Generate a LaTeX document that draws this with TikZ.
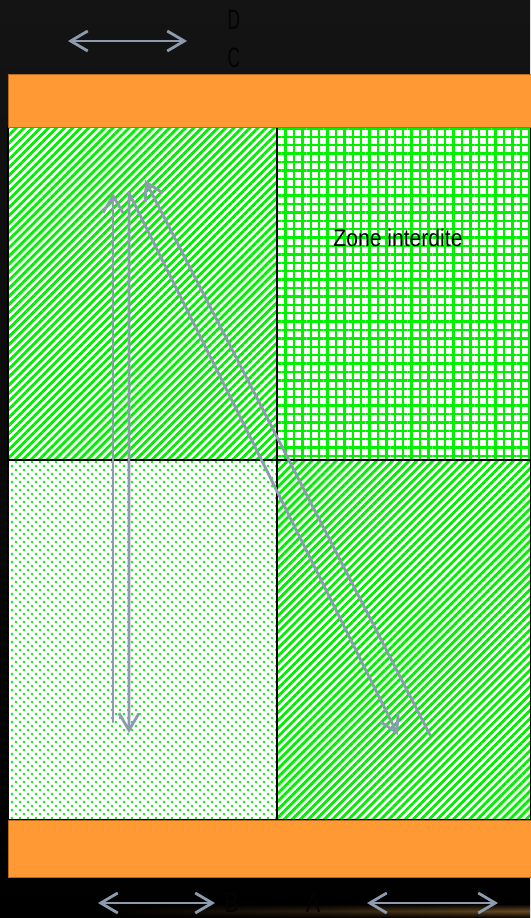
\documentclass[tikz,border=0pt]{standalone}
\usepackage{fontspec}
\setmainfont{Liberation Sans}
\usetikzlibrary{patterns.meta,arrows.meta,fadings}
\definecolor{orangebar}{RGB}{255,153,51}
\definecolor{orangeedge}{RGB}{185,105,30}
\definecolor{zgreen}{RGB}{0,240,0}
\definecolor{arrowgray}{RGB}{140,156,174}
\definecolor{bgtop}{RGB}{20,20,20}
\definecolor{glowcol}{RGB}{140,100,45}
\definecolor{lettercol}{RGB}{4,4,4}
\tikzfading[name=bandfade, top color=transparent!100, bottom color=transparent!100, middle color=transparent!0]
\tikzset{
  orangebarstyle/.style={fill=orangebar, draw=orangeedge, line width=0.8pt},
  zoneline/.style={draw=black, line width=2pt},
  grayarrow/.style={draw=arrowgray, line width=2.8pt, line cap=round, line join=round},
  barbhead/.style={arrows={-Straight Barb[length=17pt,width=20pt]}},
  barbboth/.style={arrows={Straight Barb[length=17pt,width=20pt]-Straight Barb[length=17pt,width=20pt]}},
  letterstyle/.style={text=lettercol, font=\fontsize{28}{28}\selectfont, inner sep=0pt}
}
\begin{document}
\begin{tikzpicture}[x=1pt,y=-1pt]
\useasboundingbox (0,0) rectangle (530,918);
% background
\shade[top color=bgtop, bottom color=black] (0,0) rectangle (530,918);
\shade[left color=black, right color=glowcol, middle color=black!60!glowcol, path fading=bandfade, opacity=0.75] (100,904) rectangle (530,918);
% zones
\fill[white] (8,127) rectangle (530,820);
\fill[pattern={Lines[angle=45,distance=5.7pt,line width=2.8pt]}, pattern color=zgreen] (8,127) rectangle (277,460);
\fill[pattern={Hatch[angle=0,distance=8.4pt,line width=2.4pt]}, pattern color=zgreen] (277,127) rectangle (530,460);
\fill[pattern={Dots[distance=8pt,radius=1.4pt]}, pattern color=zgreen] (8,460) rectangle (277,820);
\fill[pattern={Dots[distance=8pt,radius=1.4pt,xshift=4pt,yshift=4pt]}, pattern color=zgreen] (8,460) rectangle (277,820);
\fill[pattern={Lines[angle=45,distance=5.7pt,line width=2.8pt]}, pattern color=zgreen] (277,460) rectangle (530,820);
\draw[zoneline] (8,127) rectangle (531,820);
\draw[zoneline] (277,127) -- (277,820);
\draw[zoneline] (8,460) -- (531,460);
% orange bars
\draw[orangebarstyle] (8,74) rectangle (531,127);
\draw[orangebarstyle] (8,820) rectangle (531,877);
% label
\node[font=\fontsize{24}{24}\selectfont, xscale=0.88, inner sep=0pt] (zone) at (398,238) {Zone interdite};
% letters
\node[letterstyle, xscale=0.62] (D) at (234,20) {D};
\node[letterstyle, xscale=0.62] (C) at (234,58) {C};
\node[letterstyle, xscale=0.75, anchor=north] (B) at (232,893) {B};
\node[letterstyle, xscale=0.75, anchor=north] (A) at (313,893) {A};
% arrow coordinates
\coordinate (t1) at (68,41);
\coordinate (t2) at (187,41);
\coordinate (b1) at (98,903);
\coordinate (b2) at (215,903);
\coordinate (b3) at (367,903);
\coordinate (b4) at (498,903);
\coordinate (v1s) at (113,722);
\coordinate (v1e) at (113,193);
\coordinate (v2a) at (129,733);
\coordinate (v2c) at (129,193);
\coordinate (v2b) at (398,735);
\coordinate (d3s) at (430,735);
\coordinate (d3e) at (145,180);
% arrows
\draw[grayarrow, barbboth] (t1) -- (t2);
\draw[grayarrow, barbboth] (b1) -- (b2);
\draw[grayarrow, barbboth] (b3) -- (b4);
\draw[grayarrow, barbhead] (v1s) -- (v1e);
\draw[grayarrow, barbboth] (v2a) -- (v2c) -- (v2b);
\draw[grayarrow, barbhead] (d3s) -- (d3e);
\end{tikzpicture}
\end{document}
